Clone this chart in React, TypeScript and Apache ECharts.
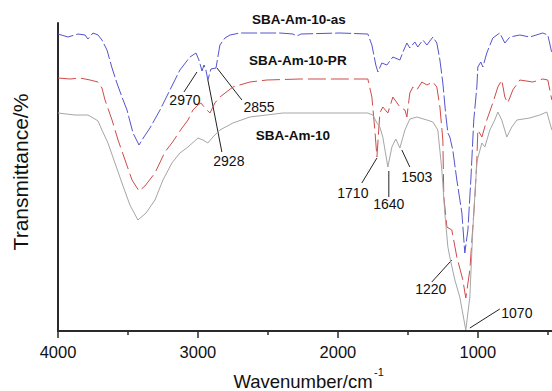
import React, { useEffect, useRef } from 'react';
import * as echarts from 'echarts';

// Wavenumber axis ticks
const majorTicks = [4000, 3000, 2000, 1000];
const minorTicks = [3500, 2500, 1500, 500];

// SBA-Am-10-as (blue)
const wnAs = [4000, 3929, 3857, 3807, 3786, 3750, 3714, 3686, 3650, 3614, 3579, 3543, 3507, 3464, 3421, 3386, 3343, 3271, 3200, 3129, 3057, 3014, 2993, 2971, 2957, 2943, 2929, 2907, 2871, 2843, 2807, 2771, 2700, 2414, 2321, 2293, 2264, 1986, 1786, 1757, 1729, 1714, 1686, 1650, 1607, 1557, 1529, 1507, 1486, 1450, 1429, 1393, 1364, 1321, 1293, 1271, 1250, 1229, 1214, 1200, 1179, 1150, 1114, 1093, 1071, 1050, 1043, 1029, 1007, 1000, 979, 964, 936, 893, 843, 807, 771, 700, 629, 536, 500, 471];
const tAs = [297, 294, 297, 296, 292, 298, 296, 291, 281, 263, 248, 234, 221, 198, 186, 194, 203, 221, 241, 261, 274, 278, 271, 260, 266, 261, 251, 262, 263, 286, 293, 296, 298, 298, 297, 295, 297, 298, 297, 286, 266, 259, 268, 266, 274, 271, 281, 288, 283, 289, 284, 291, 286, 294, 288, 271, 248, 216, 198, 194, 181, 151, 118, 78, 101, 151, 171, 211, 244, 264, 269, 264, 278, 293, 298, 288, 294, 296, 294, 298, 296, 278];

// SBA-Am-10-PR (red)
const wnPR = [4000, 3914, 3843, 3771, 3714, 3686, 3664, 3614, 3571, 3521, 3471, 3421, 3379, 3307, 3236, 3186, 3114, 3071, 3036, 3000, 2979, 2950, 2914, 2879, 2843, 2750, 2629, 2507, 2271, 1786, 1757, 1736, 1721, 1700, 1679, 1643, 1607, 1557, 1521, 1507, 1486, 1464, 1436, 1400, 1364, 1321, 1293, 1271, 1250, 1243, 1221, 1186, 1150, 1107, 1086, 1057, 1021, 1007, 1000, 971, 936, 893, 857, 829, 807, 786, 750, 700, 607, 536, 500, 471];
const tPR = [253, 252, 253, 251, 249, 243, 231, 211, 191, 171, 151, 140, 145, 158, 179, 188, 203, 211, 221, 226, 228, 223, 218, 228, 234, 244, 249, 251, 252, 252, 234, 201, 174, 218, 224, 218, 234, 224, 221, 214, 238, 244, 241, 249, 246, 249, 244, 224, 191, 134, 104, 101, 74, 51, 33, 61, 134, 171, 201, 194, 211, 228, 244, 251, 234, 228, 241, 251, 249, 252, 251, 231];

// SBA-Am-10 (grey)
const wnAm = [4000, 3879, 3786, 3736, 3714, 3686, 3643, 3593, 3543, 3486, 3429, 3371, 3307, 3250, 3186, 3129, 3071, 3000, 2964, 2929, 2893, 2843, 2750, 2629, 2393, 1786, 1750, 1721, 1700, 1679, 1643, 1614, 1586, 1557, 1521, 1486, 1436, 1364, 1321, 1286, 1257, 1236, 1214, 1193, 1164, 1129, 1086, 1057, 1036, 1007, 1000, 971, 950, 914, 879, 857, 829, 793, 757, 721, 629, 557, 507, 471];
const tAm = [218, 216, 216, 212, 210, 201, 188, 168, 148, 126, 111, 118, 131, 151, 168, 178, 184, 193, 191, 188, 194, 201, 208, 214, 218, 218, 216, 208, 204, 194, 164, 184, 192, 183, 201, 212, 214, 211, 209, 201, 161, 118, 84, 69, 51, 34, 1, 34, 101, 168, 173, 188, 184, 201, 211, 219, 211, 194, 204, 211, 213, 216, 219, 201];

const seriesNames = ['SBA-Am-10-as', 'SBA-Am-10-PR', 'SBA-Am-10'];
const seriesNameAt = [[2279, 312], [2286, 271], [2321, 196]];

// Peak annotations
const peakLabels = ['2970', '2855', '2928', '1710', '1640', '1503', '1220', '1070'];
const peakTextAt = [[3093, 231], [2564, 224], [2779, 170], [1893, 138], [1636, 127], [1436, 154], [1336, 42], [721, 18]];
const peakLineFrom = [[3100, 239], [2686, 231], [2829, 179], [1829, 148], [1636, 134], [1486, 164], [1329, 49], [843, 22]];
const peakLineTo = [[3007, 259], [2864, 263], [2929, 251], [1721, 173], [1636, 160], [1543, 181], [1186, 71], [1057, 3]];

const FONT = '"Liberation Sans", Arial, Helvetica, sans-serif';

export default function App() {
  const ref = useRef<HTMLDivElement>(null);
  useEffect(() => {
    const chart = echarts.init(ref.current!, null, { renderer: 'svg' });
    const zip = (a: number[], b: number[]) => a.map((x, i) => [x, b[i]]);
    const axisColor = '#2a2a2a';
    chart.setOption({
      animation: false,
      backgroundColor: '#ffffff',
      grid: { left: 58, top: 23, right: 0, bottom: 60, containLabel: false },
      xAxis: [
        {
          type: 'value', min: 470, max: 4000, inverse: true, position: 'bottom',
          axisLine: { show: true, onZero: false, lineStyle: { color: axisColor, width: 2 } },
          axisTick: { show: true, customValues: majorTicks, length: 7, inside: false, lineStyle: { color: axisColor, width: 1.5 } },
          axisLabel: { show: true, customValues: majorTicks, margin: 12, fontSize: 16.5, color: '#111', fontFamily: FONT,
            formatter: (v: number) => String(v) },
          splitLine: { show: false },
        },
        {
          type: 'value', min: 470, max: 4000, inverse: true, position: 'bottom',
          axisLine: { show: false, onZero: false },
          axisTick: { show: true, customValues: minorTicks, length: 4, inside: false, lineStyle: { color: axisColor, width: 1.5 } },
          axisLabel: { show: false, customValues: minorTicks },
          splitLine: { show: false },
        },
      ],
      yAxis: {
        type: 'value', min: 0, max: 308,
        axisLine: { show: true, onZero: false, lineStyle: { color: axisColor, width: 2 } },
        axisTick: { show: false }, axisLabel: { show: false }, splitLine: { show: false },
      },
      series: [
        { type: 'line', name: seriesNames[0], data: zip(wnAs, tAs), showSymbol: false, symbol: 'none', clip: false, silent: true,
          lineStyle: { color: '#5454cc', width: 1, type: [16, 3] } },
        { type: 'line', name: seriesNames[1], data: zip(wnPR, tPR), showSymbol: false, symbol: 'none', clip: false, silent: true,
          lineStyle: { color: '#d04a4a', width: 1, type: [18, 5] } },
        { type: 'line', name: seriesNames[2], data: zip(wnAm, tAm), showSymbol: false, symbol: 'none', clip: false, silent: true,
          lineStyle: { color: '#a6a6a6', width: 1 } },
      ],
    });

    const px = (p: number[]) => chart.convertToPixel({ seriesIndex: 0 }, p) as number[];
    const graphics: any[] = [];
    seriesNames.forEach((name, i) => {
      const [x, y] = px(seriesNameAt[i]);
      graphics.push({
        type: 'text', x, y, silent: true,
        style: { text: name, fontSize: 13.5, fontWeight: 'bold', fontFamily: FONT, fill: '#111',
          align: 'center', verticalAlign: 'middle', textAlign: 'center', textVerticalAlign: 'middle' },
      });
    });
    peakLabels.forEach((lab, i) => {
      const [tx, ty] = px(peakTextAt[i]);
      const [x1, y1] = px(peakLineFrom[i]);
      const [x2, y2] = px(peakLineTo[i]);
      graphics.push({ type: 'line', silent: true, shape: { x1, y1, x2, y2 }, style: { stroke: '#222', lineWidth: 1 } });
      graphics.push({
        type: 'text', x: tx, y: ty, silent: true,
        style: { text: lab, fontSize: 14, fontFamily: FONT, fill: '#111',
          align: 'center', verticalAlign: 'middle', textAlign: 'center', textVerticalAlign: 'middle' },
      });
    });
    // axis titles
    graphics.push({
      type: 'text', x: 303, y: 381, silent: true,
      style: { text: 'Wavenumber/cm', fontSize: 18.5, fontFamily: FONT, fill: '#111',
        align: 'center', verticalAlign: 'middle', textAlign: 'center', textVerticalAlign: 'middle' },
    });
    graphics.push({
      type: 'text', x: 379, y: 372, silent: true,
      style: { text: '-1', fontSize: 11, fontFamily: FONT, fill: '#111',
        align: 'center', verticalAlign: 'middle', textAlign: 'center', textVerticalAlign: 'middle' },
    });
    graphics.push({
      type: 'text', x: 20, y: 172, rotation: Math.PI / 2, silent: true,
      style: { text: 'Transmittance/%', fontSize: 21, fontFamily: FONT, fill: '#111',
        align: 'center', verticalAlign: 'middle', textAlign: 'center', textVerticalAlign: 'middle' },
    });
    chart.setOption({ graphic: graphics });
    return () => chart.dispose();
  }, []);
  return (
    <div
      ref={ref}
      style={{ position: 'fixed', left: 0, top: 0, width: 552, height: 391, background: '#fff' }}
    />
  );
}
